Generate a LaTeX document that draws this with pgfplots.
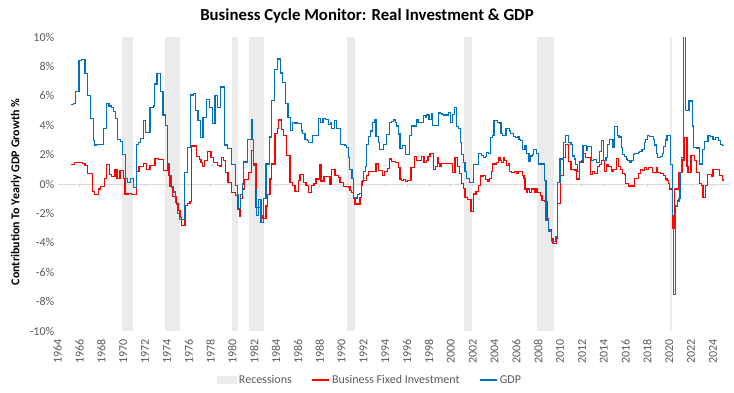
\documentclass[border=0pt]{standalone}
\usepackage{pgfplots}
\usepackage{pgfplotstable}
\pgfplotsset{compat=1.18}
\usepackage{fontspec}
\setmainfont{Carlito}
\definecolor{gdpblue}{RGB}{0,112,192}
\definecolor{bfired}{RGB}{255,0,0}
\definecolor{band}{RGB}{235,235,235}
\definecolor{zero}{RGB}{217,217,217}
\definecolor{txt}{RGB}{89,89,89}

\pgfplotstableread{
x y
1965.22 5.4
1965.42 5.5
1965.62 6.3
1965.95 8.4
1966.2 8.45
1966.5 7.5
1966.7 6.0
1967.0 4.45
1967.25 2.95
1967.4 2.65
1967.55 2.7
1968.22 3.8
1968.45 5.45
1968.7 5.3
1968.9 5.2
1969.1 4.95
1969.3 4.45
1969.5 3.05
1969.75 2.9
1969.95 2.0
1970.2 0.35
1970.4 0.1
1970.65 0.35
1970.95 -0.25
1971.2 2.7
1971.4 2.8
1971.6 3.1
1971.85 4.3
1972.05 3.5
1972.45 5.2
1972.75 5.3
1972.9 6.8
1973.1 7.5
1973.45 6.3
1973.65 4.7
1973.85 4.0
1974.05 1.4
1974.25 0.6
1974.42 -0.2
1974.6 -0.55
1974.78 -1.25
1974.95 -2.0
1975.15 -2.4
1975.62 0.8
1975.85 2.5
1976.15 6.05
1976.4 6.15
1976.65 5.0
1976.85 4.3
1977.1 3.15
1977.3 4.5
1977.65 5.75
1977.9 5.2
1978.15 4.1
1978.4 6.0
1978.65 5.2
1978.92 6.6
1979.3 2.65
1979.55 2.4
1979.9 1.3
1980.3 -0.1
1980.45 -0.7
1980.55 -1.65
1980.75 -0.7
1980.9 0.0
1981.05 1.5
1981.35 3.05
1981.72 4.35
1981.82 3.05
1981.95 1.25
1982.12 -0.35
1982.2 -2.15
1982.42 -1.05
1982.62 -2.6
1982.88 -1.0
1983.08 1.36
1983.38 3.2
1983.6 5.7
1983.88 7.8
1984.15 8.5
1984.42 7.55
1984.62 6.9
1984.88 5.5
1985.08 4.5
1985.3 3.65
1985.5 4.2
1985.7 4.15
1985.95 4.1
1986.3 3.6
1986.45 3.45
1986.65 3.05
1986.85 2.95
1987.0 2.8
1987.3 3.3
1987.9 4.45
1988.1 4.2
1988.3 4.45
1988.55 4.4
1988.78 4.05
1988.95 4.2
1989.08 3.75
1989.35 4.3
1989.52 3.75
1989.72 3.8
1989.92 2.7
1990.3 2.6
1990.45 2.5
1990.6 1.8
1990.75 1.0
1990.95 0.35
1991.1 -0.9
1991.3 -0.95
1991.45 -0.7
1991.65 -0.65
1991.82 0.15
1991.98 0.85
1992.15 1.2
1992.28 2.7
1992.46 3.25
1992.64 3.6
1992.82 4.2
1992.98 4.35
1993.14 3.25
1993.34 2.8
1993.5 2.35
1993.86 2.7
1994.1 3.35
1994.35 4.2
1994.6 4.25
1994.75 4.35
1994.9 4.2
1995.05 3.95
1995.2 3.4
1995.35 2.4
1995.6 2.6
1995.88 2.0
1996.25 3.3
1996.4 3.95
1996.85 4.35
1997.0 4.2
1997.5 4.65
1997.65 4.5
1997.8 4.7
1998.0 4.4
1998.2 4.8
1998.32 4.0
1998.85 4.85
1999.0 4.8
1999.2 4.75
1999.35 4.7
1999.5 4.75
1999.65 4.7
1999.8 4.85
2000.0 4.2
2000.18 4.75
2000.3 5.2
2000.55 3.9
2000.7 3.75
2000.85 2.8
2001.0 2.0
2001.15 1.45
2001.3 0.85
2001.45 0.4
2001.7 0.1
2002.05 1.35
2002.55 2.05
2002.8 1.95
2003.0 1.8
2003.15 1.85
2003.3 2.15
2003.45 2.1
2003.65 3.15
2003.8 3.3
2003.95 4.3
2004.3 4.2
2004.45 4.15
2004.6 3.45
2004.75 3.3
2005.05 3.8
2005.2 3.75
2005.35 3.6
2005.5 3.45
2005.75 3.25
2005.95 3.15
2006.1 3.25
2006.25 3.05
2006.4 2.95
2006.55 2.35
2006.8 2.6
2006.95 2.05
2007.15 1.55
2007.3 1.9
2007.45 2.0
2007.6 2.35
2007.85 2.05
2008.0 1.36
2008.55 0.25
2008.72 -2.5
2008.95 -3.2
2009.2 -3.9
2009.62 -3.6
2009.78 0.1
2010.0 1.7
2010.35 2.8
2010.5 3.3
2010.8 2.8
2011.0 2.7
2011.15 1.9
2011.3 1.7
2011.45 1.35
2011.6 0.85
2011.8 1.5
2011.95 1.6
2012.1 2.6
2012.4 2.3
2012.55 2.55
2012.85 1.6
2013.1 1.65
2013.35 1.45
2013.6 2.2
2013.8 2.95
2014.0 1.6
2014.2 1.8
2014.35 2.7
2014.55 3.05
2014.85 2.5
2015.0 3.9
2015.25 3.3
2015.4 3.2
2015.6 2.5
2015.75 2.0
2015.9 1.85
2016.05 1.7
2016.2 1.6
2016.4 1.45
2016.55 1.6
2016.7 2.0
2016.85 2.1
2017.0 2.05
2017.15 2.15
2017.3 2.2
2017.5 2.35
2017.7 2.8
2017.85 3.05
2018.0 3.3
2018.2 3.25
2018.4 3.25
2018.55 3.05
2018.65 2.65
2018.8 2.05
2018.95 1.8
2019.2 1.85
2019.35 2.1
2019.5 2.55
2019.65 3.0
2019.8 3.3
2020.12 1.3
2020.3 -2.15
2020.42 -7.5
2020.55 -1.5
2020.75 -1.15
2020.9 -1.0
2020.98 0.8
2021.1 1.8
2021.27 12
2021.52 5.0
2021.8 5.65
2022.1 3.95
2022.25 2.5
2022.55 2.45
2022.8 1.36
2023.05 2.35
2023.25 2.9
2023.55 3.3
2023.8 3.25
2024.0 3.05
2024.2 3.15
2024.5 2.95
2024.7 2.7
2024.85 2.6
2025.0 2.6
}\gdp

\pgfplotstableread{
x y
1965.22 1.3
1965.55 1.44
1966.3 1.4
1966.5 1.26
1966.71 0.69
1967.2 -0.49
1967.35 -0.7
1967.72 -0.34
1967.94 -0.16
1968.27 0.4
1968.49 1.3
1968.73 0.63
1968.94 0.52
1969.25 1.0
1969.43 0.4
1969.71 0.9
1970.01 0.4
1970.16 -0.68
1970.5 -0.62
1970.75 -0.7
1971.23 0.85
1971.45 1.2
1971.84 1.4
1972.15 0.97
1972.45 1.27
1972.91 1.76
1973.2 1.65
1973.67 0.9
1974.04 1.3
1974.13 0.56
1974.28 -0.16
1974.5 -0.84
1974.9 -1.36
1975.05 -1.81
1975.2 -2.3
1975.35 -2.8
1975.66 -1.47
1975.87 -1.3
1976.12 -1.2
1976.27 2.59
1976.73 1.87
1977.0 1.65
1977.12 1.45
1977.28 1.17
1977.43 1.58
1977.73 2.2
1978.04 1.8
1978.25 1.47
1978.65 1.24
1978.86 1.2
1979.01 1.8
1979.15 1.6
1979.35 0.8
1979.6 0.1
1979.9 -0.56
1980.3 -0.8
1980.45 -1.7
1980.62 -2.22
1980.75 -1.0
1980.9 -0.34
1981.1 0.29
1981.46 0.79
1981.75 2.3
1981.95 1.36
1982.16 -1.58
1982.62 -2.15
1982.77 -2.37
1983.08 -1.5
1983.23 -0.69
1983.44 0.34
1983.59 1.36
1983.9 3.43
1984.1 3.8
1984.21 4.35
1984.51 3.73
1984.66 3.28
1984.97 1.92
1985.27 0.11
1985.52 -0.11
1985.73 -0.49
1986.04 0.23
1986.19 0.67
1986.49 0.11
1986.74 -0.11
1986.95 -0.6
1987.26 -0.11
1987.47 0.06
1987.65 0.34
1987.96 1.3
1988.11 0.2
1988.39 0.53
1988.94 -0.03
1989.09 0.97
1989.39 0.6
1989.7 0.45
1989.85 0.11
1990.16 -0.16
1990.62 -0.2
1990.77 -0.45
1990.92 -0.6
1991.07 -1.0
1991.23 -1.36
1991.68 -0.9
1991.84 -0.11
1991.93 0.23
1992.29 0.56
1992.45 0.84
1993.15 1.36
1993.36 0.9
1993.73 0.6
1993.91 0.84
1994.2 1.07
1994.38 1.7
1994.6 1.55
1994.9 1.45
1995.19 1.13
1995.35 0.34
1995.5 0.25
1995.7 0.3
1995.85 0.15
1996.05 0.25
1996.35 1.13
1996.66 1.87
1996.85 1.58
1997.2 1.6
1997.33 1.87
1997.55 1.45
1997.75 1.58
1997.9 1.87
1998.1 2.05
1998.43 0.99
1998.6 1.2
1998.8 1.8
1998.9 1.42
1999.0 1.2
1999.1 1.42
2000.15 0.8
2000.38 1.8
2000.6 1.2
2000.8 0.74
2001.0 0.06
2001.15 -0.3
2001.3 -0.9
2001.5 -1.05
2001.85 -1.89
2002.1 -0.68
2002.3 -0.5
2002.5 -0.11
2002.75 0.55
2003.0 0.6
2003.2 0.3
2003.4 0.15
2003.55 0.4
2003.7 0.84
2003.85 1.36
2004.2 1.45
2004.35 1.8
2004.5 1.58
2004.65 1.45
2004.8 1.8
2004.95 1.58
2005.12 1.25
2005.25 1.36
2005.4 0.84
2005.57 0.77
2005.85 0.87
2006.0 0.73
2006.15 0.84
2006.55 0.57
2006.7 0.4
2006.8 -0.34
2006.95 -0.6
2007.05 -0.34
2007.2 -0.56
2007.35 -0.34
2007.65 -0.56
2007.8 -0.34
2007.95 -0.56
2008.2 -0.8
2008.35 -1.13
2008.55 -1.2
2008.8 -2.38
2008.95 -3.1
2009.2 -3.7
2009.35 -4.07
2009.65 -3.73
2009.8 -1.3
2010.05 0.56
2010.35 1.8
2010.5 2.7
2010.8 1.55
2011.0 1.0
2011.3 0.95
2011.5 0.34
2011.8 1.47
2012.1 2.09
2012.3 1.8
2012.8 0.66
2013.0 0.87
2013.15 0.72
2013.45 1.19
2013.6 1.3
2013.8 1.58
2014.1 0.87
2014.25 1.3
2014.4 1.19
2014.7 0.87
2014.85 0.99
2015.15 1.74
2015.35 1.19
2015.5 0.99
2015.7 0.72
2015.9 0.63
2016.0 0.03
2016.3 -0.14
2016.85 0.39
2017.2 0.7
2017.4 0.99
2017.55 0.9
2017.75 1.1
2017.95 0.99
2018.1 1.1
2018.5 0.8
2018.8 1.13
2018.95 0.8
2019.2 0.72
2019.45 0.56
2019.65 0.34
2019.8 0.23
2019.95 0.03
2020.05 -0.34
2020.3 -3.05
2020.5 -0.34
2020.9 0.77
2021.2 1.63
2021.35 3.16
2021.62 1.2
2021.72 0.77
2022.0 1.92
2022.3 1.58
2022.5 0.79
2022.8 0.03
2022.95 -0.1
2023.1 -0.9
2023.3 -0.1
2023.5 0.63
2023.85 0.52
2024.0 0.97
2024.6 0.57
2024.85 0.27
2025.0 0.27
}\bfi

\begin{document}
\begin{tikzpicture}[x=1pt,y=1pt]
\begin{axis}[
  at={(57.7pt,61pt)}, anchor=south west,
  scale only axis, width=671.6pt, height=294pt,
  xmin=1964, xmax=2025.5, ymin=-10, ymax=10,
  axis line style={draw=none}, tick style={draw=none},
  xtick={1964,1966,...,2024},
  ytick={-10,-8,...,10},
  /pgf/number format/assume math mode=true,
  /pgf/number format/1000 sep={},
  yticklabel={\pgfmathprintnumber{\tick}\%},
  xticklabel style={yshift=-5pt, rotate=90, anchor=east, font=\fontsize{12}{12}\selectfont, text=txt},
  yticklabel style={font=\fontsize{12}{12}\selectfont, text=txt},
  legend columns=3,
  legend style={draw=none, fill=none, at={(0.465,-0.1667)}, anchor=center,
    font=\fontsize{12}{14}\selectfont, text=txt,
    /tikz/every even column/.append style={column sep=18pt}},
  legend cell align=left,
]
\addplot[fill=band, draw=none, legend image code/.code={\fill[band] (0pt,-4pt) rectangle (20pt,4pt);}]
  coordinates {(1969.92,-10) (1969.92,10) (1970.92,10) (1970.92,-10)} --cycle;
\addlegendentry{Recessions}
\addplot[fill=band, draw=none, forget plot] coordinates {(1973.83,-10) (1973.83,10) (1975.22,10) (1975.22,-10)} --cycle;
\addplot[fill=band, draw=none, forget plot] coordinates {(1980.0,-10) (1980.0,10) (1980.55,10) (1980.55,-10)} --cycle;
\addplot[fill=band, draw=none, forget plot] coordinates {(1981.5,-10) (1981.5,10) (1982.9,10) (1982.9,-10)} --cycle;
\addplot[fill=band, draw=none, forget plot] coordinates {(1990.5,-10) (1990.5,10) (1991.2,10) (1991.2,-10)} --cycle;
\addplot[fill=band, draw=none, forget plot] coordinates {(2001.17,-10) (2001.17,10) (2001.9,10) (2001.9,-10)} --cycle;
\addplot[fill=band, draw=none, forget plot] coordinates {(2007.92,-10) (2007.92,10) (2009.45,10) (2009.45,-10)} --cycle;
\addplot[fill=band, draw=none, forget plot] coordinates {(2020.05,-10) (2020.05,10) (2020.28,10) (2020.28,-10)} --cycle;
\addplot[zero, line width=1pt, forget plot] coordinates {(1964,0) (2025.5,0)};
\addplot[zero, line width=0.8pt, ycomb, forget plot] coordinates {
 (1964,-0.2) (1966,-0.2) (1968,-0.2) (1970,-0.2) (1972,-0.2) (1974,-0.2) (1976,-0.2) (1978,-0.2)
 (1980,-0.2) (1982,-0.2) (1984,-0.2) (1986,-0.2) (1988,-0.2) (1990,-0.2) (1992,-0.2) (1994,-0.2)
 (1996,-0.2) (1998,-0.2) (2000,-0.2) (2002,-0.2) (2004,-0.2) (2006,-0.2) (2008,-0.2) (2010,-0.2)
 (2012,-0.2) (2014,-0.2) (2016,-0.2) (2018,-0.2) (2020,-0.2) (2022,-0.2) (2024,-0.2)};
\addplot[bfired, line width=1.2pt, const plot] table {\bfi};
\addlegendentry{Business Fixed Investment}
\addplot[gdpblue, line width=1.2pt, const plot] table {\gdp};
\addlegendentry{GDP}
\end{axis}
\node[font=\bfseries\fontsize{16.8}{18}\selectfont] at (367pt,376.5pt) {Business Cycle Monitor: Real Investment \& GDP};
\node[rotate=90, font=\bfseries\fontsize{12}{12}\selectfont] at (16pt,200pt) {Contribution To Yearly GDP Growth \%};
\pgfresetboundingbox
\useasboundingbox (0,0) rectangle (734pt,392pt);
\end{tikzpicture}
\end{document}
